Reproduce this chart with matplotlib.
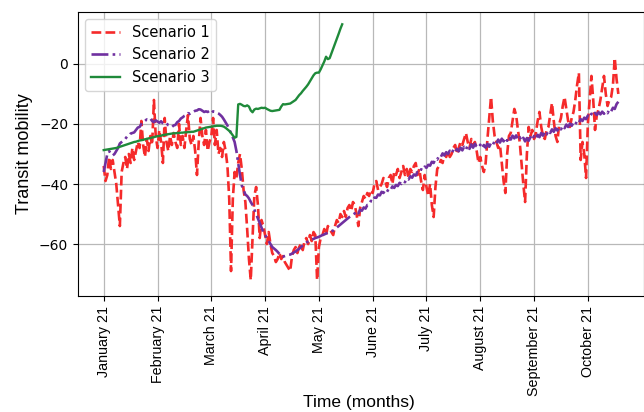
import numpy as np
import matplotlib
matplotlib.use("Agg")
import matplotlib.pyplot as plt

# Daily transit-mobility values (day 0 = start of January 2021)
scenario_1 = [
    -34, -39, -37, -31, -35, -32, -36, -40, -47, -54, -36, -33, -31, -35,
    -30, -33, -28, -32, -29, -26, -28, -19, -27, -31, -25, -29, -24, -27,
    -12, -24, -28, -22, -26, -33, -18, -26, -29, -24, -27, -23, -26, -28,
    -20, -27, -24, -28, -22, -17, -25, -27, -24, -29, -37, -26, -18, -24,
    -27, -22, -29, -26, -24, -18, -27, -22, -30, -28, -31, -26, -29, -34,
    -45, -69, -45, -36, -38, -33, -30, -35, -42, -46, -55, -65, -72, -58,
    -44, -41, -47, -58, -52, -54, -57, -60, -56, -60, -63, -64, -66, -65,
    -63, -65, -64, -66, -67, -68, -69, -64, -62, -61, -63, -61, -60, -62,
    -59, -58, -60, -57, -59, -56, -57, -72, -61, -58, -57, -55, -57, -54,
    -55, -56, -57, -54, -52, -53, -50, -51, -49, -51, -48, -47, -49, -46,
    -47, -50, -54, -48, -46, -44, -45, -43, -44, -42, -43, -40, -39, -42,
    -41, -40, -38, -39, -41, -38, -37, -40, -36, -37, -35, -38, -36, -34,
    -37, -35, -38, -35, -36, -34, -33, -37, -35, -39, -42, -37, -41, -44,
    -40, -47, -51, -41, -35, -34, -32, -33, -30, -31, -29, -31, -30, -28,
    -27, -30, -28, -26, -27, -25, -23, -26, -28, -25, -27, -26, -29, -33,
    -31, -34, -36, -33, -25, -18, -11, -19, -24, -26, -28, -27, -33, -39,
    -43, -30, -24, -23, -19, -15, -17, -22, -26, -33, -40, -46, -30, -21,
    -24, -22, -25, -23, -19, -16, -21, -24, -25, -22, -21, -17, -13, -19,
    -24, -26, -20, -18, -14, -11, -15, -19, -21, -18, -16, -12, -7, -3,
    -32, -26, -30, -38, -20, -12, -4, -12, -22, -17, -15, -12, -8, -4,
    -10, -14, -12, -11, -7, 2, -5, -10,
]

scenario_2 = [
    -36, -33, -30, -29, -30, -30.5, -30, -29, -28, -26.5, -26, -25.5, -25, -24.2,
    -24, -23.2, -23, -22.8, -22, -21.2, -21, -20, -19.2, -19, -18.5, -18.7, -18.2, -19,
    -19.4, -18.8, -19.2, -19.6, -19.1, -19.8, -20.2, -19.8, -20.4, -20.6, -21, -20.5, -20.3, -19.4,
    -19, -18.2, -17.8, -17.3, -17, -16.4, -16.6, -16.1, -16, -15.6, -15.5, -15.1, -15.2, -15.6,
    -16, -15.8, -16, -15.6, -16.3, -15.8, -15.9, -16.2, -16.5, -17, -17.6, -18.5, -19.5, -20.5,
    -21.8, -23, -24.5, -26, -29, -33, -37, -40.5, -42, -43.5, -44, -44.8, -46, -47,
    -48.5, -50, -51.5, -53, -54.5, -56, -57, -58, -59, -60, -61, -61.5, -62, -62.6,
    -63.3, -64, -64.2, -64, -63.8, -63.6, -63.5, -63.2, -62.8, -62.5, -62, -61.6, -61, -60.5,
    -60, -59.5, -59.2, -59, -58.5, -58.3, -58, -57.8, -57.6, -57.3, -57, -56.8, -56.5, -56.2,
    -56, -55.7, -55.5, -55, -54.5, -54, -53.5, -53, -52.5, -52, -51.5, -51, -50.6, -50.2,
    -49.8, -49, -49.8, -48.6, -48.9, -47.8, -48.2, -47, -46.9, -45.6, -45.9, -44.5, -44.6, -43.5,
    -43.8, -42.6, -43, -42, -42.6, -41.5, -41.9, -40.8, -41.3, -40.3, -40.7, -39.6, -40, -39,
    -39.4, -38.2, -38.5, -37.4, -37.9, -36.8, -37.2, -36, -36.3, -35.1, -35.4, -34.2, -34.6, -33.6,
    -33.9, -32.6, -33, -31.6, -31.9, -30.6, -31, -29.8, -30.5, -29.4, -30, -28.9, -29.8, -28.6,
    -29.4, -28.3, -29.1, -27.9, -28.8, -27.6, -28.6, -27.2, -28.3, -26.8, -27.9, -26.6, -27.5, -27.9,
    -26.9, -28.1, -27, -27.9, -26.6, -27.6, -26.3, -27, -25.7, -26.5, -25.2, -26.2, -24.9, -25.8,
    -24.6, -25.6, -24.2, -25.2, -23.9, -24.8, -23.8, -25.2, -24.4, -25.6, -24.6, -25.8, -24.7, -25.6,
    -24.4, -25.3, -24, -24.9, -23.6, -24.4, -23, -23.9, -22.6, -23.5, -22.2, -23, -21.8, -22.6,
    -21.4, -22.2, -21, -21.8, -20.6, -21.4, -20.2, -21, -19.9, -20.6, -19.5, -20.2, -19, -19.6,
    -18.4, -19, -17.9, -18.4, -17.2, -17.8, -16.6, -17.3, -16.3, -17, -16.1, -16.8, -15.9, -16.6,
    -15.8, -16.4, -15.2, -15.8, -14.6, -15, -13.4, -12.6,
]

scenario_3 = [
    -28.7, -28.6, -28.5, -28.4, -28.3, -28.2, -28.1, -28, -27.8, -27.6, -27.4, -27.2, -27, -26.8,
    -26.6, -26.4, -26.2, -26, -25.9, -25.7, -25.5, -25.4, -25.3, -25.1, -25, -24.8, -24.7, -24.5,
    -24.4, -24.2, -24.1, -24, -23.9, -23.7, -23.6, -23.5, -23.4, -23.3, -23.2, -23.1, -23.1, -23,
    -23, -22.9, -22.9, -22.8, -22.8, -22.7, -22.7, -22.6, -22.6, -22.4, -22.2, -22, -21.8, -21.6,
    -21.4, -21.2, -21.1, -21, -20.9, -20.8, -20.7, -20.6, -20.6, -20.6, -20.7, -20.9, -21.3, -21.8,
    -22.3, -23, -23.8, -24.6, -24.3, -13.5, -13.3, -13.6, -14, -14.1, -13.8, -14.2, -15.5, -16.1,
    -15.2, -14.9, -15, -14.8, -14.6, -14.7, -14.6, -15, -15.3, -15.6, -15.7, -15.6, -15.5, -15.4,
    -15.3, -14.2, -13.4, -13.5, -13.4, -13.3, -13.2, -12.8, -12.4, -12, -11.2, -10.4, -9.8, -9,
    -8.3, -7.6, -6.8, -5.8, -4.8, -3.8, -3.1, -2.9, -2.9, -1.8, -0.5, 0.8, 2.4, 1.6,
    1.9, 3.5, 5, 6.6, 8.3, 10, 11.7, 13.2,
]

month_labels = [
    "January 21", "February 21", "March 21", "April 21", "May 21",
    "June 21", "July 21", "August 21", "September 21", "October 21",
]

fig = plt.figure(figsize=(6.44, 4.12), dpi=100)
ax = fig.add_axes([0.1211, 0.2816, 0.879, 0.6893])

ax.plot(np.arange(len(scenario_1)), scenario_1, linestyle="--", color="#f52a2a",
        linewidth=1.9, label="Scenario 1", zorder=3)
ax.plot(np.arange(len(scenario_2)), scenario_2, linestyle="-.", color="#7030a0",
        linewidth=1.9, label="Scenario 2", zorder=4)
ax.plot(np.arange(len(scenario_3)), scenario_3, linestyle="-", color="#1f8a3a",
        linewidth=1.7, label="Scenario 3", zorder=5)

ax.set_xlim(-14.35, 301.35)
ax.set_ylim(-77.3, 17.3)
ax.set_yticks([-60, -40, -20, 0])
ax.tick_params(axis="y", labelsize=10)

ax.set_xticks(np.arange(len(month_labels)) * 30)
ax.set_xticklabels(month_labels, rotation=90, fontsize=10.3,
                   family="Liberation Sans")

ax.grid(True, color="#b8b8b8", linewidth=0.9)
ax.set_axisbelow(True)

ax.set_ylabel("Transit mobility", fontsize=13, family="Liberation Sans")
fig.text(0.558, 0.004, "Time (months)", ha="center", va="bottom",
         fontsize=12.5, family="Liberation Sans")

ax.legend(loc="upper left", fontsize=10.5)

fig.savefig("out.png", dpi=100)
